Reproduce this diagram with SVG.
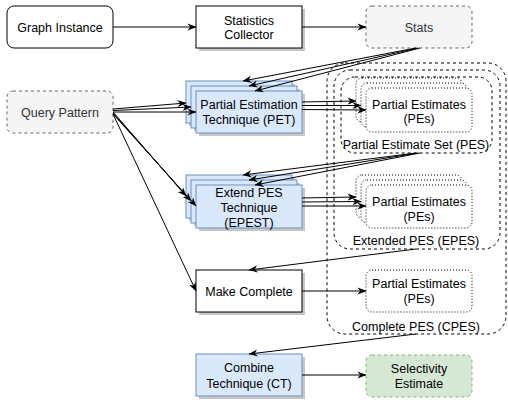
<svg xmlns="http://www.w3.org/2000/svg" width="508" height="400" viewBox="0 0 508 400">
<defs>
<marker id="arr" viewBox="0 0 10 10" refX="9.5" refY="5" markerWidth="9" markerHeight="9" markerUnits="userSpaceOnUse" orient="auto">
<path d="M0,1 L10,5 L0,9 L3,5 z" fill="#000"/>
</marker>
<style>
text{font-family:"Liberation Sans",Arial,Helvetica,sans-serif;font-size:12.5px;fill:#000;text-anchor:middle}
.gray text,text.gray{fill:#333}
.plain{fill:#fff;stroke:#000;stroke-width:1}
.blue{fill:#dae8fc;stroke:#6c8ebf;stroke-width:1}
.green{fill:#d5e8d4;stroke:#82b366;stroke-width:1;stroke-dasharray:3 3}
.grayb{fill:#f5f5f5;stroke:#666;stroke-width:1;stroke-dasharray:3 3}
.shadow{fill:#000;opacity:0.22}
.dot{fill:#fff;stroke:#000;stroke-width:1;stroke-dasharray:1 2}
.cont{fill:none;stroke:#000;stroke-width:1;stroke-dasharray:3 3}
.edge{fill:none;stroke:#000;stroke-width:1;marker-end:url(#arr)}
</style>
</defs>
<rect width="508" height="400" fill="#fff"/>

<g id="containers">
<rect id="cpes" class="cont" x="327" y="63" width="179" height="271" rx="18"/>
<rect id="epes" class="cont" x="334" y="70" width="166" height="179" rx="16"/>
<rect id="pes" class="cont" x="341" y="77" width="151" height="76" rx="14"/>
<text x="416" y="149">Partial Estimate Set (PES)</text>
<text x="416" y="245">Extended PES (EPES)</text>
<text x="416" y="331">Complete PES (CPES)</text>
</g>

<g id="graph-instance">
<rect class="plain" x="7" y="6" width="106" height="42" rx="7"/>
<text x="60" y="31.5">Graph Instance</text>
</g>

<g id="statistics-collector">
<rect class="shadow" x="199" y="9" width="106" height="42"/>
<rect class="plain" x="196" y="6" width="106" height="42"/>
<text x="249" y="24.5">Statistics</text>
<text x="249" y="39">Collector</text>
</g>

<g id="stats" class="gray">
<rect class="grayb" x="366" y="6" width="106" height="42" rx="6"/>
<text x="419" y="31.5">Stats</text>
</g>

<g id="query-pattern" class="gray">
<rect class="grayb" x="7" y="91" width="106" height="42" rx="6"/>
<text x="60" y="116.5">Query Pattern</text>
</g>

<g id="pet">
<rect class="shadow" x="189" y="84" width="106" height="42"/>
<rect class="blue" x="186" y="81" width="106" height="42"/>
<rect class="shadow" x="194" y="89" width="106" height="42"/>
<rect class="blue" x="191" y="86" width="106" height="42"/>
<rect class="shadow" x="199" y="94" width="106" height="42"/>
<rect class="blue" x="196" y="91" width="106" height="42"/>
<text x="249" y="108.5">Partial Estimation</text>
<text x="249" y="124">Technique (PET)</text>
</g>

<g id="epest">
<rect class="shadow" x="189" y="178" width="106" height="43"/>
<rect class="blue" x="186" y="175" width="106" height="43"/>
<rect class="shadow" x="194" y="183" width="106" height="43"/>
<rect class="blue" x="191" y="180" width="106" height="43"/>
<rect class="shadow" x="199" y="188" width="106" height="43"/>
<rect class="blue" x="196" y="185" width="106" height="43"/>
<text x="249" y="196.5">Extend PES</text>
<text x="249" y="211.5">Technique</text>
<text x="249" y="226.5">(EPEST)</text>
</g>

<g id="make-complete">
<rect class="shadow" x="199" y="273" width="106" height="42"/>
<rect class="plain" x="196" y="270" width="106" height="42"/>
<text x="249" y="295.5">Make Complete</text>
</g>

<g id="ct">
<rect class="shadow" x="199" y="357" width="106" height="42"/>
<rect class="blue" x="196" y="354" width="106" height="42"/>
<text x="249" y="372">Combine</text>
<text x="249" y="387.5">Technique (CT)</text>
</g>

<g id="selectivity-estimate">
<rect class="green" x="366" y="355" width="106" height="42" rx="6"/>
<text x="419" y="372.5">Selectivity</text>
<text x="419" y="388">Estimate</text>
</g>

<g id="pes-1">
<rect class="dot" x="356" y="78" width="106" height="44" rx="6"/>
<rect class="dot" x="361" y="83" width="106" height="44" rx="6"/>
<rect class="dot" x="366" y="88" width="106" height="44" rx="6"/>
<text x="419" y="108.5">Partial Estimates</text>
<text x="419" y="123">(PEs)</text>
</g>

<g id="pes-2">
<rect class="dot" x="356" y="175" width="106" height="43" rx="6"/>
<rect class="dot" x="361" y="180" width="106" height="43" rx="6"/>
<rect class="dot" x="366" y="185" width="106" height="43" rx="6"/>
<text x="419" y="206">Partial Estimates</text>
<text x="419" y="220.5">(PEs)</text>
</g>

<g id="pes-3">
<rect class="dot" x="366" y="270" width="106" height="42" rx="6"/>
<text x="419" y="288">Partial Estimates</text>
<text x="419" y="303">(PEs)</text>
</g>

<g id="connectors">
<path class="edge" d="M113,27 L196,27"/>
<path class="edge" d="M302,27 L366,27"/>
<path class="edge" d="M416,48 L243,81"/>
<path class="edge" d="M418,48 L249,86"/>
<path class="edge" d="M420,48 L255,91"/>
<path class="edge" d="M113,109 L186,103"/>
<path class="edge" d="M113,110.5 L191,107"/>
<path class="edge" d="M113,112 L196,112"/>
<path class="edge" d="M113,112 L186,196"/>
<path class="edge" d="M113,113 L191,201"/>
<path class="edge" d="M113,114 L196,206"/>
<path class="edge" d="M113,114 L196,291"/>
<path class="edge" d="M302,102 L356,101"/>
<path class="edge" d="M302,105.5 L361,105.5"/>
<path class="edge" d="M302,109.5 L366,110"/>
<path class="edge" d="M416,153 L243,175"/>
<path class="edge" d="M418,153 L249,180"/>
<path class="edge" d="M420,153 L255,185"/>
<path class="edge" d="M302,198 L356,197"/>
<path class="edge" d="M302,202 L361,201.5"/>
<path class="edge" d="M302,206 L366,206"/>
<path class="edge" d="M416,249 L249,270"/>
<path class="edge" d="M302,291 L366,291"/>
<path class="edge" d="M416,334 L249,354"/>
<path class="edge" d="M302,375 L366,375"/>
</g>
</svg>
